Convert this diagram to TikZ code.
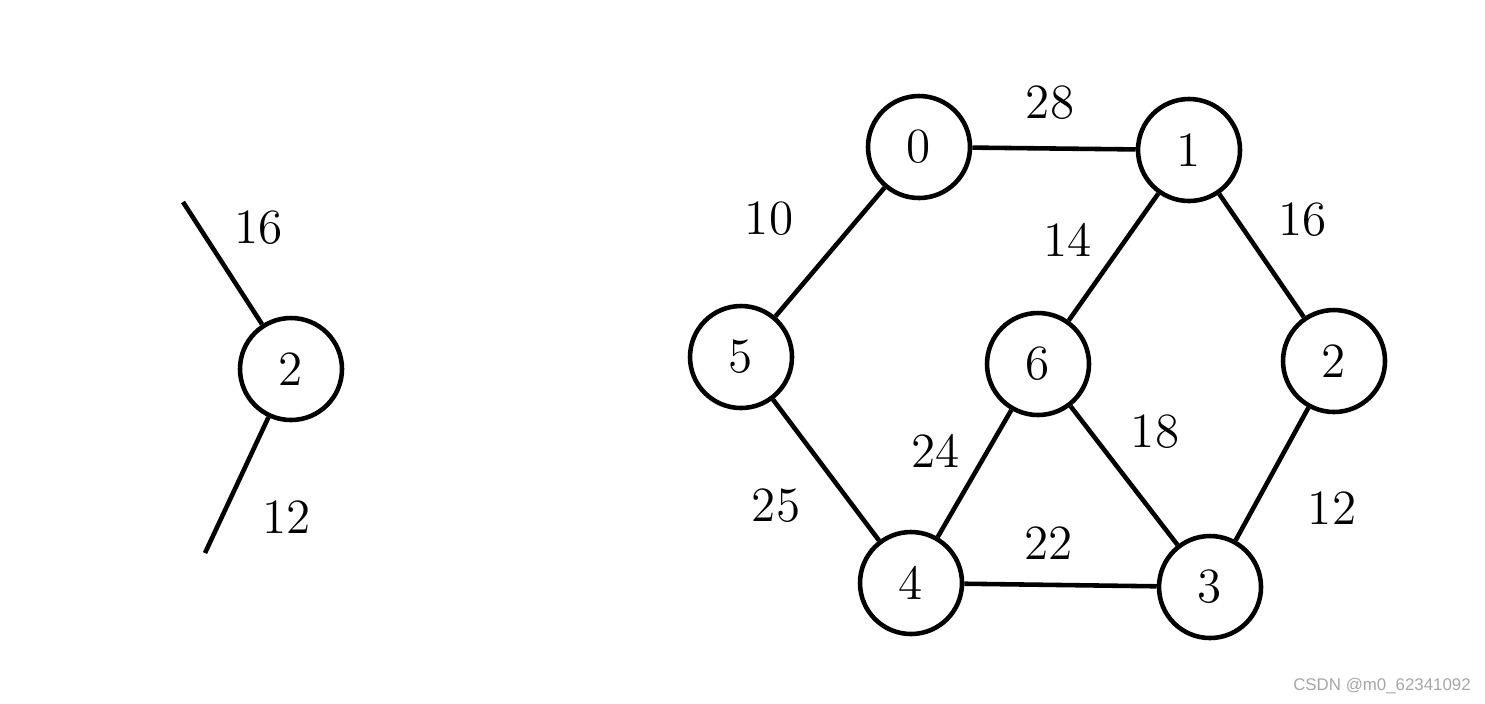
\documentclass[tikz,border=0pt]{standalone}
\usepackage{fontspec}
\usepackage{tikz}
\usetikzlibrary{positioning}
\newfontfamily\markfont{Liberation Sans}

\begin{document}
\begin{tikzpicture}[
    vertex/.style={draw, circle, line width=1.3pt, minimum size=1.02cm, inner sep=0pt, font=\fontsize{14}{16}\selectfont},
    edge/.style={line width=1.3pt},
    weight/.style={font=\fontsize{14}{16}\selectfont}
]
\useasboundingbox (0,0) rectangle (14.85,7.03);

% single vertex on the left
\node[vertex] (l2) at (2.91,3.34) {2};
\coordinate (ltop) at (1.83,5.01);
\coordinate (lbot) at (2.05,1.50);
\draw[edge] (ltop) -- node[weight, xshift=0.36cm, yshift=0.35cm] {16} (l2);
\draw[edge] (l2) -- node[weight, xshift=0.5cm, yshift=-0.32cm] {12} (lbot);

% the graph
\node[vertex] (v0) at (9.19,5.56) {0};
\node[vertex] (v1) at (11.89,5.53) {1};
\node[vertex] (v2) at (13.34,3.42) {2};
\node[vertex] (v3) at (12.10,1.16) {3};
\node[vertex] (v4) at (9.11,1.20) {4};
\node[vertex] (v5) at (7.41,3.46) {5};
\node[vertex] (v6) at (10.38,3.39) {6};

\draw[edge] (v0) -- node[weight, xshift=-0.04cm, yshift=0.46cm] {28} (v1);
\draw[edge] (v0) -- node[weight, xshift=-0.61cm, yshift=0.33cm] {10} (v5);
\draw[edge] (v1) -- node[weight, xshift=-0.46cm, yshift=0.17cm] {14} (v6);
\draw[edge] (v1) -- node[weight, xshift=0.41cm, yshift=0.36cm] {16} (v2);
\draw[edge] (v6) -- node[weight, xshift=-0.39cm, yshift=0.23cm] {24} (v4);
\draw[edge] (v6) -- node[weight, xshift=0.31cm, yshift=0.44cm] {18} (v3);
\draw[edge] (v5) -- node[weight, xshift=-0.5cm, yshift=-0.36cm] {25} (v4);
\draw[edge] (v4) -- node[weight, xshift=-0.12cm, yshift=0.42cm] {22} (v3);
\draw[edge] (v2) -- node[weight, xshift=0.6cm, yshift=-0.34cm] {12} (v3);

\node[font=\markfont\fontsize{4.8}{6}\selectfont, text=gray!70] (mark) at (13.82,0.17) {CSDN @m0\_62341092};

\end{tikzpicture}
\end{document}
